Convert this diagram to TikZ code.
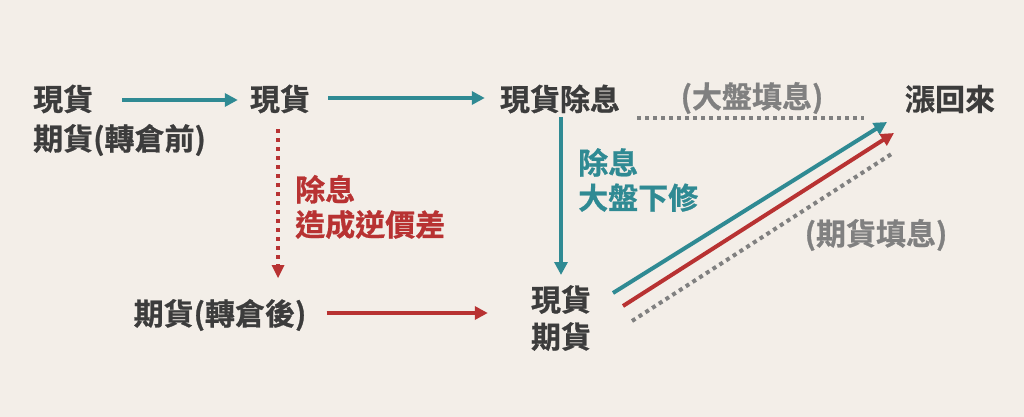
\documentclass[tikz,border=0pt]{standalone}
\usepackage{fontspec}
\setmainfont{Noto Sans CJK TC}[BoldFont={Noto Sans CJK TC Bold},BoldFeatures={FakeBold=0.8}]
\usetikzlibrary{arrows.meta,calc}
\definecolor{bgc}{HTML}{F3EEE8}
\definecolor{tealc}{HTML}{2F8A93}
\definecolor{redc}{HTML}{B83232}
\definecolor{grayc}{HTML}{808080}
\definecolor{darkc}{HTML}{3C3C3C}
\begin{document}
\begin{tikzpicture}[x=1pt,y=-1pt,
  lbl/.style={inner sep=0pt, font=\fontsize{30}{35}\selectfont\bfseries, text=darkc},
  arr/.style={line width=4pt, -{Triangle[length=13pt,width=13pt]}},
  graydots/.style={line width=4pt, grayc, dash pattern=on 4pt off 4pt},
  reddots/.style={line width=3.8pt, redc, dash pattern=on 3.8pt off 5.2pt}
]
\fill[bgc] (0,0) rectangle (1024,417);
\useasboundingbox (0,0) rectangle (1024,417);

\node[lbl,anchor=west] (s1) at (33,99) {現貨};
\node[lbl,anchor=west] (f1) at (33,140) {期貨(轉倉前)};
\node[lbl] (s2) at (280,99) {現貨};
\node[lbl] (s3) at (560,99) {現貨除息};
\node[lbl,text=grayc] (g1) at (752,98) {(大盤填息)};
\node[lbl] (up) at (950,99) {漲回來};
\node[lbl,anchor=west,text=redc,align=left] (rd) at (295,207) {除息\\造成逆價差};
\node[lbl,anchor=west,text=tealc,align=left] (td) at (578,180) {除息\\大盤下修};
\node[lbl] (f2) at (220,315) {期貨(轉倉後)};
\node[lbl,align=center,font=\fontsize{30}{37}\selectfont\bfseries] (sf) at (561,318) {現貨\\期貨};
\node[lbl,text=grayc] (g2) at (876,235) {(期貨填息)};

% top row arrows
\draw[arr,tealc] ($(s1.east)+(29,1)$) -- ($(s2.west)+(-12,1)$);
\draw[arr,tealc] ($(s2.east)+(18,-1)$) -- ($(s3.west)+(-15,-1)$);
\draw[graydots] ($(s3.east)+(17,19)$) -- ($(up.west)+(-41,19)$);

% verticals
\coordinate (rEnd) at ($(s2.center)+(-2,179)$);
\draw[reddots] ($(s2.center)+(-2,30)$) -- ($(rEnd)+(0,-12)$);
\fill[redc] ($(rEnd)+(0,0)$) -- ($(rEnd)+(-6.5,-13)$) -- ($(rEnd)+(6.5,-13)$) -- cycle;
\draw[arr,tealc] ($(s3.center)+(1,18)$) -- ($(sf.center)+(0,-43)$);

% bottom arrow
\draw[arr,redc] ($(f2.east)+(20,-2)$) -- ($(sf.west)+(-43,-5)$);

% diagonals
\draw[arr,tealc] ($(sf.center)+(52,-25)$) -- ($(up.center)+(-63,23)$);
\draw[arr,redc] ($(sf.center)+(62,-12)$) -- ($(up.center)+(-56,34)$);
\draw[graydots] ($(sf.center)+(71,3)$) -- ($(up.center)+(-57,54)$);
\end{tikzpicture}
\end{document}
